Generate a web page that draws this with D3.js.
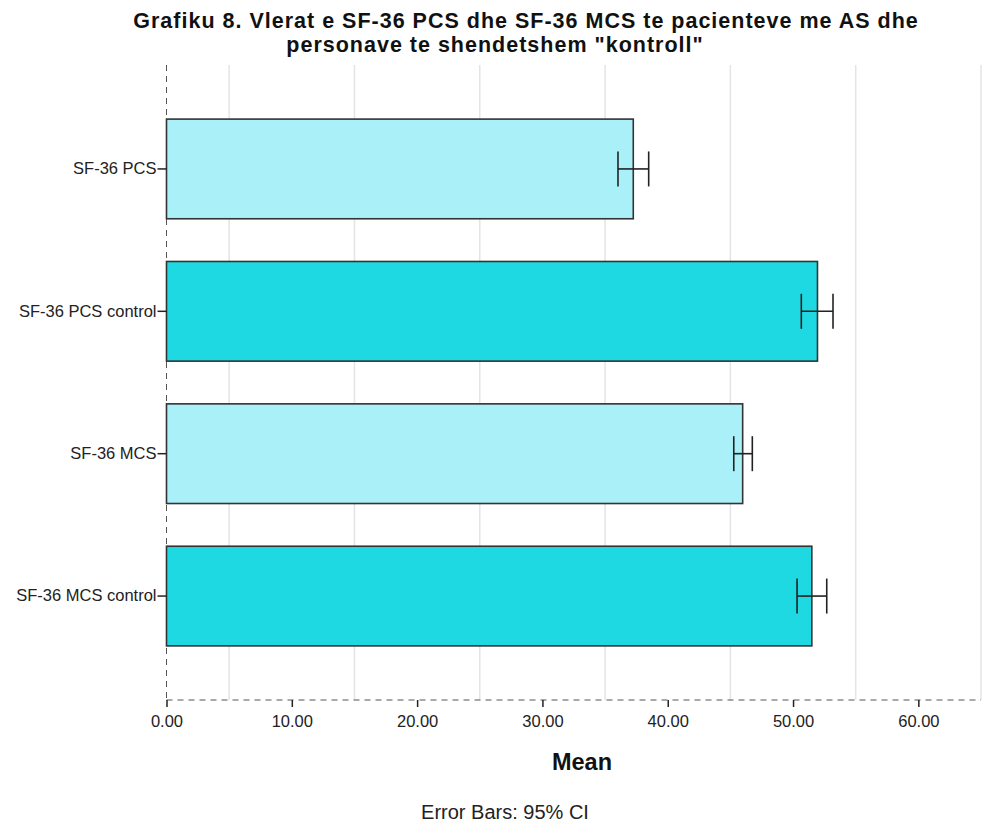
<!DOCTYPE html>
<html>
<head>
<meta charset="utf-8">
<script src="https://cdn.jsdelivr.net/npm/d3@7"></script>
<style>
  body { margin: 0; background: #fff; }
  svg { display: block; }
  text { font-family: "Liberation Sans", Arial, sans-serif; }
</style>
</head>
<body>
<svg id="chart" width="987" height="825"></svg>
<script>
// Mean scores with 95% confidence intervals
const categories = ["SF-36 PCS", "SF-36 PCS control", "SF-36 MCS", "SF-36 MCS control"];
const means = [37.25, 51.95, 45.98, 51.5];
const ciLow = [36.03, 50.66, 45.27, 50.32];
const ciHigh = [38.48, 53.19, 46.75, 52.69];
const groups = ["patient", "control", "patient", "control"];
const xTicks = [0, 10, 20, 30, 40, 50, 60];
const gridValues = [5, 15, 25, 35, 45, 55, 65];

const fillFor = { patient: "#aaf0f9", control: "#1fd9e2" };

const svg = d3.select("#chart");
const plotLeft = 166.5, plotRight = 981, plotTop = 65, plotBottom = 700;

const x = d3.scaleLinear().domain([0, 65]).range([plotLeft, plotRight]);
const y = d3.scaleBand().domain(categories).range([plotTop, plotBottom])
  .paddingInner(0.3).paddingOuter(0.38);

// Title (two lines)
svg.append("text")
  .attr("x", 526).attr("y", 28)
  .attr("text-anchor", "middle")
  .attr("font-size", 21.5).attr("font-weight", "bold").attr("fill", "#111")
  .attr("letter-spacing", 1)
  .text("Grafiku 8. Vlerat e SF-36 PCS dhe SF-36 MCS te pacienteve me AS dhe");
svg.append("text")
  .attr("x", 495).attr("y", 52)
  .attr("text-anchor", "middle")
  .attr("font-size", 21.5).attr("font-weight", "bold").attr("fill", "#111")
  .attr("letter-spacing", 1)
  .text("personave te shendetshem \"kontroll\"");

// Vertical gridlines
svg.append("g").selectAll("line").data(gridValues).join("line")
  .attr("x1", d => x(d)).attr("x2", d => x(d))
  .attr("y1", plotTop).attr("y2", plotBottom)
  .attr("stroke", "#e4e4e4").attr("stroke-width", 1.5);

// Dashed axis lines
svg.append("line")
  .attr("x1", plotLeft).attr("x2", plotLeft).attr("y1", plotTop).attr("y2", plotBottom)
  .attr("stroke", "#555").attr("stroke-dasharray", "6,5");
svg.append("line")
  .attr("x1", plotLeft).attr("x2", plotRight).attr("y1", plotBottom).attr("y2", plotBottom)
  .attr("stroke", "#555").attr("stroke-dasharray", "6,5");

// Bars
const rows = categories.map((c, i) => ({ c, m: means[i], lo: ciLow[i], hi: ciHigh[i], g: groups[i] }));
svg.append("g").selectAll("rect").data(rows).join("rect")
  .attr("x", x(0)).attr("y", d => y(d.c))
  .attr("width", d => x(d.m) - x(0)).attr("height", y.bandwidth())
  .attr("fill", d => fillFor[d.g])
  .attr("stroke", "#333").attr("stroke-width", 1.6);

// Error bars
const eb = svg.append("g").attr("stroke", "#222").attr("stroke-width", 1.6);
rows.forEach(d => {
  const cy = y(d.c) + y.bandwidth() / 2;
  eb.append("line").attr("x1", x(d.lo)).attr("x2", x(d.hi)).attr("y1", cy).attr("y2", cy);
  eb.append("line").attr("x1", x(d.lo)).attr("x2", x(d.lo)).attr("y1", cy - 17.5).attr("y2", cy + 17.5);
  eb.append("line").attr("x1", x(d.hi)).attr("x2", x(d.hi)).attr("y1", cy - 17.5).attr("y2", cy + 17.5);
});

// Y axis ticks and labels
const yAxis = d3.axisLeft(y).tickSize(9).tickPadding(1);
const gy = svg.append("g").attr("transform", `translate(${plotLeft},0)`).call(yAxis);
gy.select(".domain").remove();
gy.selectAll(".tick line").attr("stroke", "#222").attr("stroke-width", 1.5);
gy.selectAll(".tick text").attr("font-size", 16.5).attr("fill", "#222")
  .attr("font-family", "Liberation Sans, Arial, sans-serif");

// X axis ticks and labels
const xAxis = d3.axisBottom(x).tickValues(xTicks).tickFormat(d3.format(".2f")).tickSize(7).tickPadding(8);
const gx = svg.append("g").attr("transform", `translate(0,${plotBottom})`).call(xAxis);
gx.select(".domain").remove();
gx.selectAll(".tick line").attr("stroke", "#222").attr("stroke-width", 1.5);
gx.selectAll(".tick text").attr("font-size", 16.5).attr("fill", "#222")
  .attr("font-family", "Liberation Sans, Arial, sans-serif");

// Axis title
svg.append("text")
  .attr("x", 582).attr("y", 770)
  .attr("text-anchor", "middle")
  .attr("font-size", 23.5).attr("font-weight", "bold").attr("fill", "#111")
  .text("Mean");

// Footnote
svg.append("text")
  .attr("x", 505).attr("y", 819)
  .attr("text-anchor", "middle")
  .attr("font-size", 20).attr("fill", "#222")
  .text("Error Bars: 95% CI");
</script>
</body>
</html>
